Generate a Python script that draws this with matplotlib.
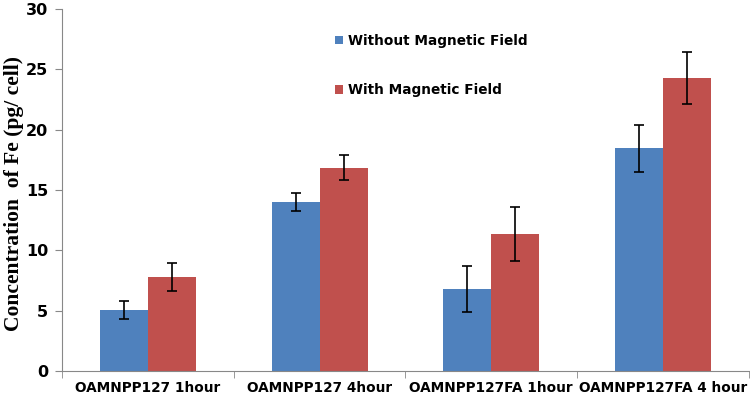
import numpy as np
import matplotlib.pyplot as plt

categories = ['OAMNPP127 1hour', 'OAMNPP127 4hour', 'OAMNPP127FA 1hour', 'OAMNPP127FA 4 hour']
without_field = [5.05, 14.0, 6.8, 18.45]
without_err = [0.75, 0.75, 1.9, 1.95]
with_field = [7.8, 16.85, 11.35, 24.25]
with_err = [1.15, 1.05, 2.25, 2.15]

fig = plt.figure(figsize=(7.5, 4.03), dpi=100)
ax = fig.add_axes([0.083, 0.079, 0.915, 0.899])

x = np.arange(len(categories))
w = 0.28
ekw = dict(ecolor='black', elinewidth=1.2, capsize=3.5, capthick=1.2)
ax.bar(x - w/2, without_field, w, color='#4F81BD', yerr=without_err,
       error_kw=ekw, label='Without Magnetic Field')
ax.bar(x + w/2, with_field, w, color='#C0504D', yerr=with_err,
       error_kw=ekw, label='With Magnetic Field')

ax.set_xlim(-0.5, len(categories) - 0.5)
ax.set_ylim(0, 30)
ax.set_yticks(range(0, 31, 5))
ax.set_xticks(x)
ax.set_xticklabels(categories, fontsize=9.8, fontweight='bold')
ax.set_xticks(np.arange(-0.5, len(categories)), minor=True)
ax.tick_params(axis='x', which='major', length=0, pad=7)
ax.tick_params(axis='x', which='minor', length=5, color='#888888')
ax.tick_params(axis='y', length=5, color='#888888', labelsize=11.5, pad=5)
for lab in ax.get_yticklabels():
    lab.set_fontweight('bold')

for s in ['top', 'right']:
    ax.spines[s].set_visible(False)
for s in ['left', 'bottom']:
    ax.spines[s].set_color('#888888')

ax.set_ylabel('Concentration  of Fe (pg/ cell)', family='Liberation Serif',
              fontweight='bold', fontsize=15.5)
ax.yaxis.set_label_coords(-0.056, 0.49)

leg = ax.legend(loc='upper left', bbox_to_anchor=(0.38, 0.965), frameon=False,
                handlelength=0.6, handleheight=0.6, handletextpad=0.35,
                labelspacing=2.6, prop={'weight': 'bold', 'size': 9.8})

fig.savefig('out.png', dpi=100)
